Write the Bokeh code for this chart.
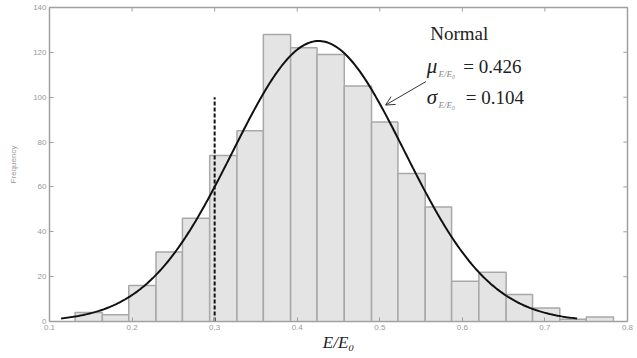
import numpy as np
from bokeh.plotting import figure
from bokeh.models import Range1d, Arrow, OpenHead, FixedTicker
from bokeh.core.properties import value
from bokeh.embed import file_html
from bokeh.resources import INLINE

# ---- data ----
bin_edges = [0.131, 0.164, 0.196, 0.229, 0.261, 0.294, 0.327, 0.359, 0.392, 0.424,
             0.457, 0.490, 0.522, 0.555, 0.587, 0.620, 0.653, 0.685, 0.718, 0.750, 0.783]
counts = [4, 3, 16, 31, 46, 74, 85, 128, 122, 119, 105, 89, 66, 51, 18, 22, 12, 6, 1, 2]
mu = 0.426
sigma = 0.104
curve_x_start = 0.114
curve_x_end = 0.739
threshold_x = 0.3
threshold_top = 100
x_ticks = [0.1, 0.2, 0.3, 0.4, 0.5, 0.6, 0.7, 0.8]
y_ticks = [0, 20, 40, 60, 80, 100, 120, 140]

serif = "Liberation Serif"
sans = "Liberation Sans"
x_lo, x_hi, y_lo, y_hi = 0.1, 0.8, 0, 140

p = figure(width=637, height=358, output_backend="svg", toolbar_location=None,
           x_range=Range1d(x_lo, x_hi), y_range=Range1d(y_lo, y_hi),
           min_border_left=49, min_border_right=10, min_border_top=7, min_border_bottom=37,
           x_axis_label="E/E₀", y_axis_label="Frequency")
p.grid.visible = False
p.outline_line_color = "#a0a0a0"
p.outline_line_width = 1.5
p.background_fill_color = "white"
p.border_fill_color = "white"

# bars
lefts = bin_edges[:-1]
rights = bin_edges[1:]
p.quad(left=lefts, right=rights, bottom=0, top=counts,
       fill_color="#e4e4e4", line_color="#a8a8a8", line_width=1.5)

# fitted normal curve
n_total = sum(counts)
bw = (bin_edges[-1] - bin_edges[0]) / len(counts)
xs = np.linspace(curve_x_start, curve_x_end, 300)
ys = n_total * bw / (sigma * np.sqrt(2 * np.pi)) * np.exp(-0.5 * ((xs - mu) / sigma) ** 2)
p.line(xs, ys, line_color="#111111", line_width=2)

# dashed threshold line
p.segment(x0=[threshold_x], y0=[0], x1=[threshold_x], y1=[threshold_top],
          line_color="#111111", line_width=2, line_dash="4 2")

# annotation
p.text(x=[0.561], y=[128.4], text=["Normal"], text_font=value(serif),
       text_font_size="19px", text_color="#222222", text_baseline="middle")
p.text(x=[0.557], y=[113.7], text=["μ"], text_font=value(serif), text_font_style="italic",
       text_font_size="21px", text_color="#222222", text_baseline="middle")
p.text(x=[0.571], y=[110.5], text=["E/E₀"], text_font=value(serif), text_font_style="italic",
       text_font_size="9px", text_color="#888888", text_baseline="middle")
p.text(x=[0.601], y=[113.7], text=["= 0.426"], text_font=value(serif),
       text_font_size="19px", text_color="#222222", text_baseline="middle")
p.text(x=[0.557], y=[99.9], text=["σ"], text_font=value(serif), text_font_style="italic",
       text_font_size="21px", text_color="#222222", text_baseline="middle")
p.text(x=[0.571], y=[96.7], text=["E/E₀"], text_font=value(serif), text_font_style="italic",
       text_font_size="9px", text_color="#888888", text_baseline="middle")
p.text(x=[0.604], y=[99.9], text=["= 0.104"], text_font=value(serif),
       text_font_size="19px", text_color="#222222", text_baseline="middle")
p.add_layout(Arrow(end=OpenHead(size=9, line_color="#333333", line_width=1),
                   x_start=0.556, y_start=107, x_end=0.507, y_end=96.5,
                   line_color="#333333", line_width=1))

# axes styling
for ax, ticks in ((p.xaxis[0], x_ticks), (p.yaxis[0], y_ticks)):
    ax.ticker = FixedTicker(ticks=ticks)
    ax.axis_line_color = "#a0a0a0"
    ax.major_tick_line_color = "#a0a0a0"
    ax.major_tick_in = 4
    ax.major_tick_out = 0
    ax.minor_tick_line_color = None
    ax.major_label_text_font = sans
    ax.major_label_text_font_size = "8px"
    ax.major_label_text_color = "#999999"
    ax.major_label_standoff = 3

p.xaxis[0].axis_label_text_font = serif
p.xaxis[0].axis_label_text_font_style = "italic"
p.xaxis[0].axis_label_text_font_size = "17px"
p.xaxis[0].axis_label_text_color = "#222222"
p.xaxis[0].axis_label_standoff = 0

p.yaxis[0].axis_label_text_font = sans
p.yaxis[0].axis_label_text_font_style = "normal"
p.yaxis[0].axis_label_text_font_size = "8px"
p.yaxis[0].axis_label_text_color = "#999999"
p.yaxis[0].axis_label_standoff = 12

# box ticks on the top and right edges (same tick arrays)
tick_len_y = 1.8
tick_len_x = 0.005
p.segment(x0=x_ticks, y0=[y_hi] * len(x_ticks), x1=x_ticks, y1=[y_hi - tick_len_y] * len(x_ticks),
          line_color="#a0a0a0", line_width=1)
p.segment(x0=[x_hi] * len(y_ticks), y0=y_ticks, x1=[x_hi - tick_len_x] * len(y_ticks), y1=y_ticks,
          line_color="#a0a0a0", line_width=1)

open("out.html", "w").write(file_html(p, INLINE))
